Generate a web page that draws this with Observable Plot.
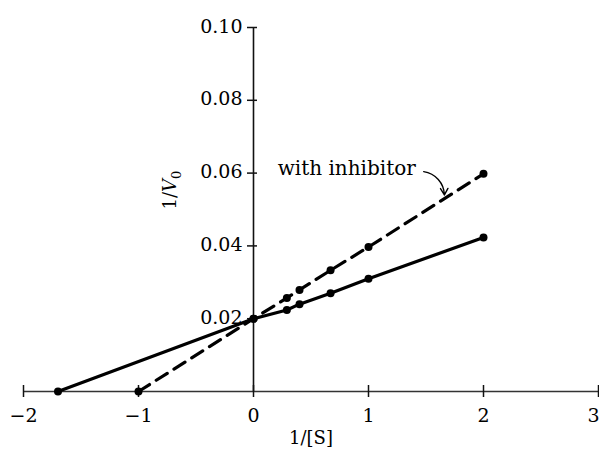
<!DOCTYPE html>
<html>
<head>
<meta charset="utf-8">
<script src="https://cdn.jsdelivr.net/npm/d3@7"></script>
<script src="https://cdn.jsdelivr.net/npm/@observablehq/plot@0.6"></script>
<style>
  html, body { margin: 0; padding: 0; background: #fff; }
  #chart svg { display: block; }
</style>
</head>
<body>
<div id="chart"></div>
<script>
// 1/[S] values of the measured points
const sInv = [0.29, 0.4, 0.67, 1, 2];
// 1/V0 without inhibitor (solid)
const vInvControl = [0.0224, 0.024, 0.027, 0.031, 0.0423];
// 1/V0 with inhibitor (dashed)
const vInvInhib = [0.0257, 0.0279, 0.0333, 0.0397, 0.0598];
// shared y-intercept and x-intercepts
const yIntercept = 0.02;
const xInterceptControl = -1.7;
const xInterceptInhib = -1.0;
// ticks
const xTicks = [-2, -1, 0, 1, 2, 3];
const xTickLabels = ["−2", "−1", "0", "1", "2", "3"];
const yTicks = [0.02, 0.04, 0.06, 0.08, 0.10];
const yTickLabels = ["0.02", "0.04", "0.06", "0.08", "0.10"];
// annotation
const annotationText = "with inhibitor";
const annotationPos = {x: 0.21, y: 0.0613};
const arrowFrom = {x: 1.48, y: 0.0604};
const arrowTo = {x: 1.66, y: 0.0540};

const control = [
  {x: xInterceptControl, y: 0},
  {x: 0, y: yIntercept},
  ...sInv.map((x, i) => ({x, y: vInvControl[i]}))
];
const inhib = [
  {x: xInterceptInhib, y: 0},
  {x: 0, y: yIntercept},
  ...sInv.map((x, i) => ({x, y: vInvInhib[i]}))
];

const font = "DejaVu Serif, Liberation Serif, serif";
const ink = "#000";
const lastTick = xTicks.length - 1;

const chart = Plot.plot({
  width: 599,
  height: 452,
  marginLeft: 23,
  marginRight: 1,
  marginTop: 27,
  marginBottom: 61,
  style: {fontFamily: font, background: "#fff"},
  x: {domain: [-2, 3], axis: null},
  y: {domain: [0, 0.1], axis: null},
  marks: [
    // axis lines
    Plot.ruleY([0], {x1: xTicks[0], x2: xTicks[lastTick], stroke: "#333", strokeWidth: 1.6}),
    Plot.ruleX([0], {y1: 0, y2: yTicks[yTicks.length - 1], stroke: "#111", strokeWidth: 1.6}),
    // tick marks crossing the axes
    Plot.ruleX(xTicks, {x: d => d, y1: 0, y2: 0, insetTop: -6, insetBottom: -6, stroke: "#111", strokeWidth: 1.5}),
    Plot.ruleY(yTicks, {y: d => d, x1: 0, x2: 0, insetLeft: -6, insetRight: -4, stroke: "#111", strokeWidth: 1.5}),
    // tick labels
    Plot.text(xTicks, {filter: (d, i) => i < lastTick, x: d => d, y: 0, text: d => xTickLabels[xTicks.indexOf(d)],
      dy: 24, fontSize: 19, fill: ink}),
    Plot.text(xTicks, {filter: (d, i) => i === lastTick, x: d => d, y: 0, text: d => xTickLabels[xTicks.indexOf(d)],
      textAnchor: "end", dx: 1, dy: 24, fontSize: 19, fill: ink}),
    Plot.text(yTicks, {x: 0, y: d => d, text: (d, i) => yTickLabels[i], textAnchor: "end", dx: -11, dy: -1, fontSize: 19, fill: ink}),
    // lines
    Plot.line(control, {x: "x", y: "y", stroke: ink, strokeWidth: 3.2}),
    Plot.line(inhib, {x: "x", y: "y", stroke: ink, strokeWidth: 3.2, strokeDasharray: "13,8"}),
    Plot.dot(control, {x: "x", y: "y", r: 4, fill: ink, stroke: "none"}),
    Plot.dot(inhib, {x: "x", y: "y", r: 4, fill: ink, stroke: "none"}),
    // annotation
    Plot.text([annotationText], {x: annotationPos.x, y: annotationPos.y, text: d => d, textAnchor: "start", fontSize: 20, fill: ink}),
    Plot.arrow([0], {x1: arrowFrom.x, y1: arrowFrom.y, x2: arrowTo.x, y2: arrowTo.y, bend: 40, stroke: ink, strokeWidth: 1.4, headLength: 8}),
    // axis titles
    Plot.text(["1/[S]"], {frameAnchor: "bottom", dy: 52, text: d => d, fontSize: 18, fill: ink}),
    Plot.text(["1/V0"], {frameAnchor: "left", dx: 147, rotate: -90, text: d => d, fontSize: 18, fill: ink, className: "ylabel"})
  ]
});

document.getElementById("chart").appendChild(chart);

// rich formatting for the y label: italic V with subscript 0
d3.select(chart).selectAll(".ylabel text").each(function() {
  const t = d3.select(this);
  t.text(null);
  t.append("tspan").text("1/");
  t.append("tspan").attr("font-style", "italic").text("V");
  t.append("tspan").attr("font-size", 13).attr("dy", 5).text("0");
});
</script>
</body>
</html>
